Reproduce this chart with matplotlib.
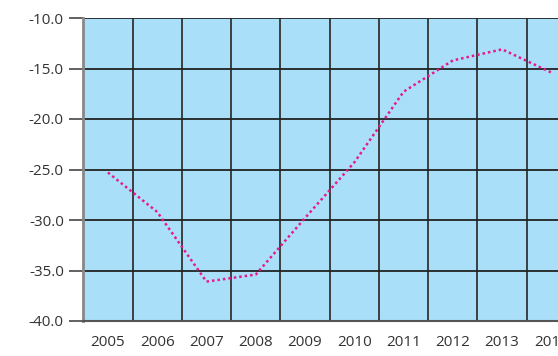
import matplotlib
matplotlib.use("Agg")
import matplotlib.pyplot as plt
from matplotlib.ticker import FixedLocator

years = ["2005", "2006", "2007", "2008", "2009", "2010", "2011", "2012", "2013", "2014"]
values = [-25.3, -29.2, -36.1, -35.4, -29.8, -24.3, -17.3, -14.2, -13.1, -15.4]
y_ticks = [-40, -35, -30, -25, -20, -15, -10]

plt.rcParams['font.family'] = ['Open Sans', 'DejaVu Sans']

fig = plt.figure(figsize=(5.58, 3.56), dpi=100)
ax = fig.add_axes([83.3 / 558, 1 - 321 / 356, 492.7 / 558, 303 / 356])
ax.set_facecolor('#aadff9')

x = list(range(len(years)))
ax.plot(x, values, color='#e8198b', linestyle=(0, (1, 1.2)), linewidth=1.8, zorder=3)

ax.set_xlim(-0.5, len(years) - 0.5)
ax.set_ylim(-40, -10)

# category labels sit between the vertical grid lines
ax.set_xticks(x)
ax.set_xticklabels(years)
ax.xaxis.set_minor_locator(FixedLocator([i - 0.5 for i in range(len(years) + 1)]))
ax.tick_params(axis='x', which='both', length=0, pad=10, labelsize=11, labelcolor='#333333')
ax.grid(axis='x', which='minor', color='#333333', linewidth=1.3)

ax.set_yticks(y_ticks)
ax.set_yticklabels(['%.1f' % v for v in y_ticks])
ax.tick_params(axis='y', length=10, width=1.3, color='#555555', pad=4, labelsize=11, labelcolor='#333333')
ax.grid(axis='y', which='major', color='#222222', linewidth=1.3)
ax.set_axisbelow(True)

for side in ['top', 'right']:
    ax.spines[side].set_visible(False)
ax.spines['left'].set_color('#888888')
ax.spines['left'].set_linewidth(2)
ax.spines['bottom'].set_color('#555555')
ax.spines['bottom'].set_linewidth(1.5)

fig.savefig('out.png', dpi=100)
